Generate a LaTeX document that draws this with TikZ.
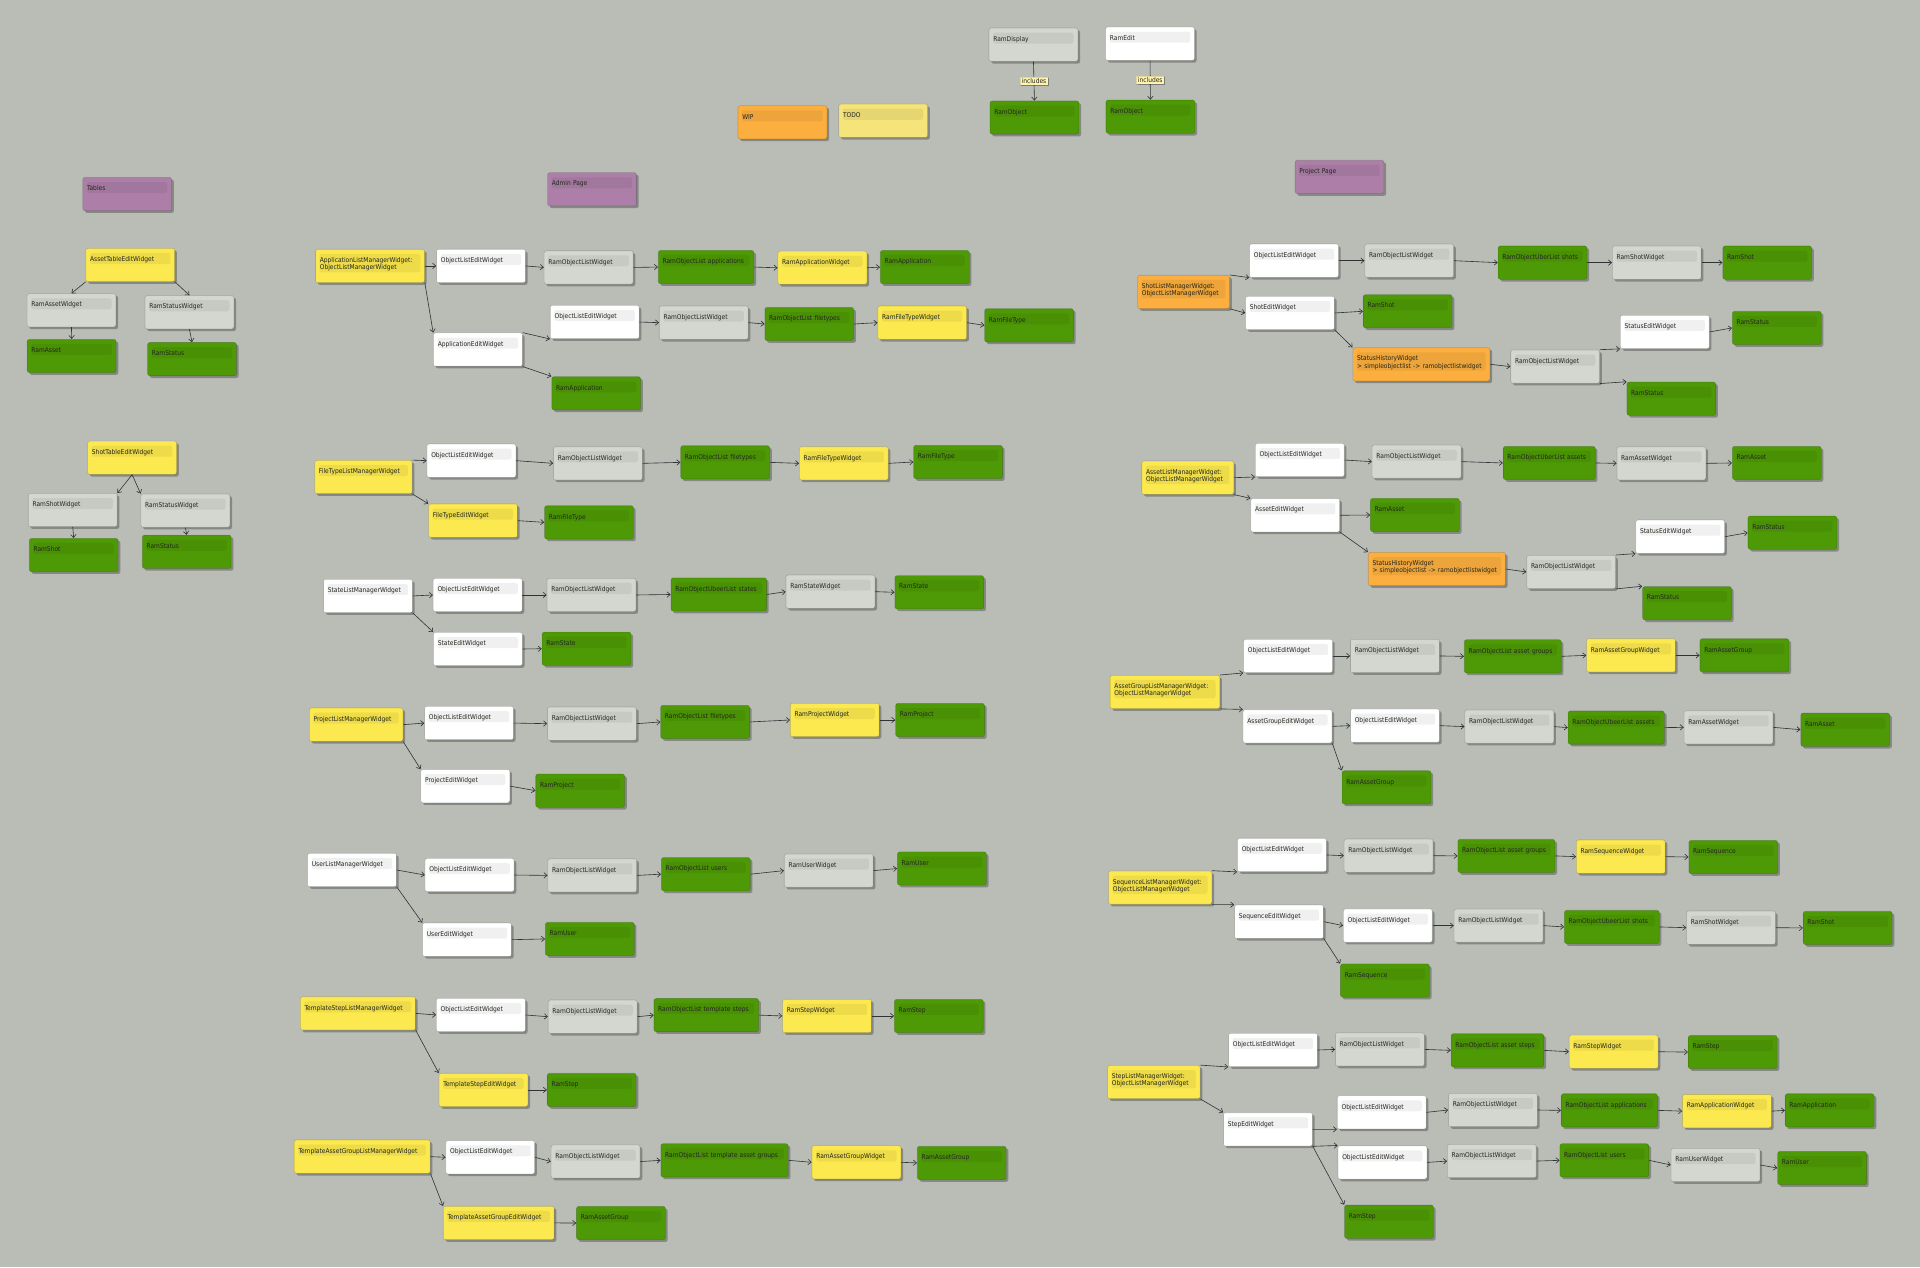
\documentclass[tikz,border=0pt]{standalone}
\usepackage{fontspec}
\setmainfont{DejaVu Sans Condensed}
\usepackage{tikz}
\usetikzlibrary{shadows,arrows.meta}

\hyphenpenalty=10000
\exhyphenpenalty=10000

\definecolor{ramback}{HTML}{BABDB6}
\definecolor{ramgreen}{HTML}{4E9A06}
\definecolor{ramyellow}{HTML}{FCE94F}
\definecolor{ramorange}{HTML}{FCAF3E}
\definecolor{ramplum}{HTML}{AD7FA8}
\definecolor{ramgray}{HTML}{D3D7CF}
\definecolor{ramtodo}{HTML}{F5E47A}
\definecolor{ramlabel}{HTML}{FFF3B0}
\definecolor{ramtext}{HTML}{23271F}
\definecolor{ramline}{HTML}{2E3436}

\tikzset{
  band/.store in=\bandh, band=9pt,
  box/.style={rectangle, rounded corners=1.8pt, draw=black, draw opacity=.16, line width=.5pt,
    inner xsep=3.5pt, inner ysep=0pt, text height=10.9pt, text depth=16.3pt,
    text width=65.6pt, align=left, text=ramtext,
    font=\fontsize{5.4}{5.8}\selectfont,
    drop shadow={shadow xshift=1.8pt, shadow yshift=-1.8pt, opacity=.28, fill=black},
    path picture={\fill[black, opacity=.06]
      ([xshift=3.3pt, yshift=-3.8pt]path picture bounding box.north west) rectangle
      ([xshift=-3.5pt, yshift=-3.8pt-\bandh]path picture bounding box.north east);}},
  boxw/.style={text width=#1-7},
  greenbox/.style={box, fill=ramgreen},
  yellowbox/.style={box, fill=ramyellow},
  orangebox/.style={box, fill=ramorange},
  plumbox/.style={box, fill=ramplum},
  graybox/.style={box, fill=ramgray},
  whitebox/.style={box, fill=white},
  todobox/.style={box, fill=ramtodo},
  inclabel/.style={rectangle, fill=ramlabel, draw=black, draw opacity=.12, line width=.3pt,
    inner xsep=1.3pt, inner ysep=1.2pt, text=ramtext, font=\fontsize{5.4}{5.8}\selectfont,
    drop shadow={shadow xshift=1pt, shadow yshift=-1pt, opacity=.25, fill=black}},
  link/.style={-{Straight Barb[length=2.6pt,width=4.4pt]}, line width=.5pt, draw=ramline}
}

\begin{document}
\begin{tikzpicture}[x=1pt,y=-1pt]
\fill[ramback] (0,0) rectangle (1568,1035);
\useasboundingbox (0,0) rectangle (1568,1035);

% legend
\node[orangebox] (wip) at (639,99.9) {WIP};
\node[todobox] (todo) at (721.3,98.6) {TODO};
\node[graybox] (ramdisplay) at (844,36.5) {RamDisplay};
\node[whitebox] (ramedit) at (939.2,35.7) {RamEdit};
\node[greenbox] (dispobject) at (844.8,96) {RamObject};
\node[greenbox] (editobject) at (939.5,95.3) {RamObject};

\draw[link] (ramdisplay.south) -- node[inclabel] (incdisp) {includes} (dispobject.north);
\draw[link] (ramedit.south) -- node[inclabel] (incedit) {includes} (editobject.north);

\node[plumbox] (tables) at (103.9,158.5) {Tables};
\node[plumbox] (adminpage) at (483.5,154.6) {Admin Page};
\node[plumbox] (projectpage) at (1093.9,144.5) {Project Page};

% tables
\node[yellowbox] (assettable) at (106.4,216.4) {AssetTableEditWidget};
\node[graybox] (tbassetw) at (58.4,253.4) {RamAssetWidget};
\node[graybox] (tbstatusw) at (154.7,255) {RamStatusWidget};
\node[greenbox] (tbasset) at (58.5,290.7) {RamAsset};
\node[greenbox] (tbstatus) at (156.8,293.3) {RamStatus};

\draw[link] (assettable.south west) -- (tbassetw.north);
\draw[link] (assettable.south east) -- (tbstatusw.north);
\draw[link] (tbassetw.south) -- (tbasset.north);
\draw[link] (tbstatusw.south) -- (tbstatus.north);

\node[yellowbox] (shottable) at (107.9,373.8) {ShotTableEditWidget};
\node[graybox] (tbshotw) at (59.4,416.5) {RamShotWidget};
\node[graybox] (tbstatusw2) at (151.4,417) {RamStatusWidget};
\node[greenbox] (tbshot) at (60.2,453.3) {RamShot};
\node[greenbox] (tbstatus2) at (152.5,450.6) {RamStatus};

\draw[link] (shottable.south) -- (tbshotw.north east);
\draw[link] (shottable.south) -- (tbstatusw2.north west);
\draw[link] (tbshotw.south) -- (tbshot.north);
\draw[link] (tbstatusw2.south) -- (tbstatus2.north);

% admin page
\node[yellowbox, boxw=89, band=15pt] (appmgr) at (302.2,217.2) {ApplicationListManagerWidget:\\ObjectListManagerWidget};
\node[whitebox] (appole) at (392.8,217.2) {ObjectListEditWidget};
\node[graybox] (approlw) at (480.7,218.4) {RamObjectListWidget};
\node[greenbox, boxw=78] (appolist) at (576.6,218.1) {RamObjectList applications};
\node[yellowbox] (appwidget) at (671.6,218.7) {RamApplicationWidget};
\node[greenbox] (appram) at (755.2,218.1) {RamApplication};
\node[whitebox] (appedit) at (390.3,285.5) {ApplicationEditWidget};
\node[whitebox] (appole2) at (485.7,263) {ObjectListEditWidget};
\node[graybox] (approlw2) at (574.7,263.5) {RamObjectListWidget};
\node[greenbox] (appftlist) at (660.9,264.6) {RamObjectList filetypes};
\node[yellowbox] (appftwidget) at (753.2,263.5) {RamFileTypeWidget};
\node[greenbox] (appft) at (840.4,265.7) {RamFileType};
\node[greenbox] (appram2) at (486.9,321.2) {RamApplication};

\draw[link] (appmgr.east) -- (appole.west);
\draw[link] (appmgr.south east) -- (appedit.north west);
\draw[link] (appole.east) -- (approlw.west);
\draw[link] (approlw.east) -- (appolist.west);
\draw[link] (appolist.east) -- (appwidget.west);
\draw[link] (appwidget.east) -- (appram.west);
\draw[link] (appedit.north east) -- (appole2.south west);
\draw[link] (appedit.south east) -- (appram2.north west);
\draw[link] (appole2.east) -- (approlw2.west);
\draw[link] (approlw2.east) -- (appftlist.west);
\draw[link] (appftlist.east) -- (appftwidget.west);
\draw[link] (appftwidget.east) -- (appft.west);

\node[yellowbox, boxw=79.6] (ftmgr) at (296.8,389.6) {FileTypeListManagerWidget};
\node[whitebox] (ftole) at (385,376.2) {ObjectListEditWidget};
\node[graybox] (ftrolw) at (488.3,378.4) {RamObjectListWidget};
\node[greenbox] (ftolist) at (592.2,377.6) {RamObjectList filetypes};
\node[yellowbox] (ftwidget) at (689.1,378.4) {RamFileTypeWidget};
\node[greenbox] (ftram) at (782.4,377.3) {RamFileType};
\node[yellowbox] (ftedit) at (386.3,425.2) {FileTypeEditWidget};
\node[greenbox] (ftram2) at (481,426.6) {RamFileType};

\draw[link] (ftmgr.north east) -- (ftole.west);
\draw[link] (ftmgr.south east) -- (ftedit.north west);
\draw[link] (ftole.east) -- (ftrolw.west);
\draw[link] (ftrolw.east) -- (ftolist.west);
\draw[link] (ftolist.east) -- (ftwidget.west);
\draw[link] (ftwidget.east) -- (ftram.west);
\draw[link] (ftedit.east) -- (ftram2.west);

\node[whitebox] (stmgr) at (300.5,486.7) {StateListManagerWidget};
\node[whitebox] (stole) at (390.1,485.9) {ObjectListEditWidget};
\node[graybox] (strolw) at (483,485.9) {RamObjectListWidget};
\node[greenbox, boxw=78] (stulist) at (587,485.5) {RamObjectUbeerList states};
\node[graybox] (stwidget) at (678.2,483.2) {RamStateWidget};
\node[greenbox] (stram) at (767.1,483.7) {RamState};
\node[whitebox] (stedit) at (390.3,530) {StateEditWidget};
\node[greenbox] (stram2) at (479,529.8) {RamState};

\draw[link] (stmgr.east) -- (stole.west);
\draw[link] (stmgr.south east) -- (stedit.north west);
\draw[link] (stole.east) -- (strolw.west);
\draw[link] (strolw.east) -- (stulist.west);
\draw[link] (stulist.east) -- (stwidget.west);
\draw[link] (stwidget.east) -- (stram.west);
\draw[link] (stedit.east) -- (stram2.west);

\node[yellowbox, boxw=76.4] (prmgr) at (290.8,591.8) {ProjectListManagerWidget};
\node[whitebox] (prole) at (383,590.5) {ObjectListEditWidget};
\node[graybox] (prrolw) at (483.4,591) {RamObjectListWidget};
\node[greenbox] (prolist) at (575.8,589.6) {RamObjectList filetypes};
\node[yellowbox] (prwidget) at (681.7,588) {RamProjectWidget};
\node[greenbox] (prram) at (767.7,588) {RamProject};
\node[whitebox] (predit) at (380,642) {ProjectEditWidget};
\node[greenbox] (prram2) at (473.8,645.7) {RamProject};

\draw[link] (prmgr.east) -- (prole.west);
\draw[link] (prmgr.south east) -- (predit.north west);
\draw[link] (prole.east) -- (prrolw.west);
\draw[link] (prrolw.east) -- (prolist.west);
\draw[link] (prolist.east) -- (prwidget.west);
\draw[link] (prwidget.east) -- (prram.west);
\draw[link] (predit.east) -- (prram2.west);

\node[whitebox] (usmgr) at (287.5,710.5) {UserListManagerWidget};
\node[whitebox] (usole) at (383.5,714.6) {ObjectListEditWidget};
\node[graybox] (usrolw) at (483.7,714.9) {RamObjectListWidget};
\node[greenbox] (usolist) at (576.4,713.9) {RamObjectList users};
\node[graybox] (uswidget) at (676.8,711) {RamUserWidget};
\node[greenbox] (usram) at (769.2,709.3) {RamUser};
\node[whitebox] (usedit) at (381.4,767.4) {UserEditWidget};
\node[greenbox] (usram2) at (481.7,766.8) {RamUser};

\draw[link] (usmgr.east) -- (usole.west);
\draw[link] (usmgr.south east) -- (usedit.north west);
\draw[link] (usole.east) -- (usrolw.west);
\draw[link] (usrolw.east) -- (usolist.west);
\draw[link] (usolist.east) -- (uswidget.west);
\draw[link] (uswidget.east) -- (usram.west);
\draw[link] (usedit.east) -- (usram2.west);

\node[yellowbox, boxw=94] (tsmgr) at (292.3,827.6) {TemplateStepListManagerWidget};
\node[whitebox] (tsole) at (392.7,828.9) {ObjectListEditWidget};
\node[graybox] (tsrolw) at (484,830.3) {RamObjectListWidget};
\node[greenbox, boxw=85.5] (tsolist) at (576.8,829) {RamObjectList template steps};
\node[yellowbox] (tswidget) at (675.4,829.7) {RamStepWidget};
\node[greenbox] (tsram) at (766.7,829.7) {RamStep};
\node[yellowbox] (tsedit) at (394.8,890.1) {TemplateStepEditWidget};
\node[greenbox] (tsram2) at (483.2,890.1) {RamStep};

\draw[link] (tsmgr.east) -- (tsole.west);
\draw[link] (tsmgr.south east) -- (tsedit.north west);
\draw[link] (tsole.east) -- (tsrolw.west);
\draw[link] (tsrolw.east) -- (tsolist.west);
\draw[link] (tsolist.east) -- (tswidget.west);
\draw[link] (tswidget.east) -- (tsram.west);
\draw[link] (tsedit.east) -- (tsram2.west);

\node[yellowbox, boxw=111] (tamgr) at (295.8,944.6) {TemplateAssetGroupListManagerWidget};
\node[whitebox] (taole) at (400.4,945.1) {ObjectListEditWidget};
\node[graybox] (tarolw) at (486.4,948.6) {RamObjectListWidget};
\node[greenbox, boxw=104] (taolist) at (591.7,947.6) {RamObjectList template asset groups};
\node[yellowbox] (tawidget) at (699.4,949.2) {RamAssetGroupWidget};
\node[greenbox] (taram) at (785.4,949.7) {RamAssetGroup};
\node[yellowbox, boxw=90.6] (taedit) at (407.3,998.7) {TemplateAssetGroupEditWidget};
\node[greenbox] (taram2) at (507.1,998.8) {RamAssetGroup};

\draw[link] (tamgr.east) -- (taole.west);
\draw[link] (tamgr.south east) -- (taedit.north west);
\draw[link] (taole.east) -- (tarolw.west);
\draw[link] (tarolw.east) -- (taolist.west);
\draw[link] (taolist.east) -- (tawidget.west);
\draw[link] (tawidget.east) -- (taram.west);
\draw[link] (taedit.east) -- (taram2.west);

% project page
\node[orangebox, boxw=75.2, band=15pt] (shmgr) at (966.6,238.4) {ShotListManagerWidget:\\ObjectListManagerWidget};
\node[whitebox] (shole) at (1056.8,212.9) {ObjectListEditWidget};
\node[graybox] (shrolw) at (1150.9,212.9) {RamObjectListWidget};
\node[greenbox] (shulist) at (1259.7,214.5) {RamObjectUberList shots};
\node[graybox] (shwidget) at (1353,214.5) {RamShotWidget};
\node[greenbox] (shram) at (1443.2,214.5) {RamShot};
\node[whitebox] (shedit) at (1053.5,255.6) {ShotEditWidget};
\node[greenbox] (shram2) at (1149.6,254.2) {RamShot};
\node[orangebox, boxw=112, band=15pt] (shhist) at (1160.8,297.5) {StatusHistoryWidget\\> simpleobjectlist -> ramobjectlistwidget};
\node[graybox] (shrolw2) at (1270.1,299.4) {RamObjectListWidget};
\node[whitebox] (shstedit) at (1359.6,271.1) {StatusEditWidget};
\node[greenbox] (shstatus) at (1451,267.8) {RamStatus};
\node[greenbox] (shstatus2) at (1364.9,325.6) {RamStatus};

\draw[link] (shmgr.north east) -- (shole.south west);
\draw[link] (shmgr.south east) -- (shedit.west);
\draw[link] (shole.east) -- (shrolw.west);
\draw[link] (shrolw.east) -- (shulist.west);
\draw[link] (shulist.east) -- (shwidget.west);
\draw[link] (shwidget.east) -- (shram.west);
\draw[link] (shedit.east) -- (shram2.west);
\draw[link] (shedit.south east) -- (shhist.north west);
\draw[link] (shhist.east) -- (shrolw2.west);
\draw[link] (shrolw2.north east) -- (shstedit.south west);
\draw[link] (shrolw2.south east) -- (shstatus2.north west);
\draw[link] (shstedit.east) -- (shstatus.west);

\node[yellowbox, boxw=75.1, band=15pt] (asmgr) at (970,390.1) {AssetListManagerWidget:\\ObjectListManagerWidget};
\node[whitebox] (asole) at (1061.5,375.7) {ObjectListEditWidget};
\node[graybox] (asrolw) at (1156.9,377) {RamObjectListWidget};
\node[greenbox, boxw=75.2] (asulist) at (1265.2,378.1) {RamObjectUberList assets};
\node[graybox] (aswidget) at (1356.8,378.4) {RamAssetWidget};
\node[greenbox] (asram) at (1451,378.1) {RamAsset};
\node[whitebox] (asedit) at (1057.8,420.8) {AssetEditWidget};
\node[greenbox] (asram2) at (1155.5,420.6) {RamAsset};
\node[orangebox, boxw=112, band=15pt] (ashist) at (1173.4,464.7) {StatusHistoryWidget\\> simpleobjectlist -> ramobjectlistwidget};
\node[graybox] (asrolw2) at (1283.1,467.1) {RamObjectListWidget};
\node[whitebox] (asstedit) at (1372.2,438.3) {StatusEditWidget};
\node[greenbox] (asstatus) at (1463.8,435) {RamStatus};
\node[greenbox] (asstatus2) at (1377.7,492.6) {RamStatus};

\draw[link] (asmgr.east) -- (asole.south west);
\draw[link] (asmgr.south east) -- (asedit.north west);
\draw[link] (asole.east) -- (asrolw.west);
\draw[link] (asrolw.east) -- (asulist.west);
\draw[link] (asulist.east) -- (aswidget.west);
\draw[link] (aswidget.east) -- (asram.west);
\draw[link] (asedit.east) -- (asram2.west);
\draw[link] (asedit.south east) -- (ashist.north west);
\draw[link] (ashist.east) -- (asrolw2.west);
\draw[link] (asrolw2.north east) -- (asstedit.south west);
\draw[link] (asrolw2.south east) -- (asstatus2.north west);
\draw[link] (asstedit.east) -- (asstatus.west);

\node[yellowbox, boxw=89.5, band=15pt] (agmgr) at (951.4,565.1) {AssetGroupListManagerWidget:\\ObjectListManagerWidget};
\node[whitebox] (agole) at (1051.9,535.7) {ObjectListEditWidget};
\node[graybox] (agrolw) at (1139.2,535.7) {RamObjectListWidget};
\node[greenbox, boxw=79.2] (agolist) at (1235.4,536) {RamObjectList asset groups};
\node[yellowbox] (agwidget) at (1332,535.2) {RamAssetGroupWidget};
\node[greenbox] (agram) at (1424.6,535.2) {RamAssetGroup};
\node[whitebox] (agedit) at (1051.5,593.2) {AssetGroupEditWidget};
\node[whitebox] (agole2) at (1139.2,592.6) {ObjectListEditWidget};
\node[graybox] (agrolw2) at (1232.6,593.4) {RamObjectListWidget};
\node[greenbox, boxw=78.6] (agulist) at (1319.9,594.2) {RamObjectUbeerList assets};
\node[graybox] (agaswidget) at (1411.6,594) {RamAssetWidget};
\node[greenbox] (agasram) at (1506.9,595.9) {RamAsset};
\node[greenbox] (agram2) at (1132.3,643) {RamAssetGroup};

\draw[link] (agmgr.north east) -- (agole.south west);
\draw[link] (agmgr.south east) -- (agedit.north west);
\draw[link] (agole.east) -- (agrolw.west);
\draw[link] (agrolw.east) -- (agolist.west);
\draw[link] (agolist.east) -- (agwidget.west);
\draw[link] (agwidget.east) -- (agram.west);
\draw[link] (agedit.east) -- (agole2.west);
\draw[link] (agedit.south east) -- (agram2.north west);
\draw[link] (agole2.east) -- (agrolw2.west);
\draw[link] (agrolw2.east) -- (agulist.west);
\draw[link] (agulist.east) -- (agaswidget.west);
\draw[link] (agaswidget.east) -- (agasram.west);

\node[yellowbox, boxw=84.3, band=15pt] (sqmgr) at (947.5,724.9) {SequenceListManagerWidget:\\ObjectListManagerWidget};
\node[whitebox] (sqole) at (1046.9,698.2) {ObjectListEditWidget};
\node[graybox] (sqrolw) at (1134,698.8) {RamObjectListWidget};
\node[greenbox, boxw=79.2] (sqolist) at (1230.2,699) {RamObjectList asset groups};
\node[yellowbox] (sqwidget) at (1323.6,699.6) {RamSequenceWidget};
\node[greenbox] (sqram) at (1415.5,699.9) {RamSequence};
\node[whitebox] (sqedit) at (1044.5,752.7) {SequenceEditWidget};
\node[whitebox] (sqole2) at (1133.4,755.9) {ObjectListEditWidget};
\node[graybox] (sqrolw2) at (1223.8,755.9) {RamObjectListWidget};
\node[greenbox, boxw=77.4] (squlist) at (1316.3,757) {RamObjectUbeerList shots};
\node[graybox] (sqshwidget) at (1413.7,757.6) {RamShotWidget};
\node[greenbox] (sqshram) at (1508.9,757.8) {RamShot};
\node[greenbox] (sqram2) at (1131,800.8) {RamSequence};

\draw[link] (sqmgr.north east) -- (sqole.south west);
\draw[link] (sqmgr.south east) -- (sqedit.north west);
\draw[link] (sqole.east) -- (sqrolw.west);
\draw[link] (sqrolw.east) -- (sqolist.west);
\draw[link] (sqolist.east) -- (sqwidget.west);
\draw[link] (sqwidget.east) -- (sqram.west);
\draw[link] (sqedit.east) -- (sqole2.west);
\draw[link] (sqedit.south east) -- (sqram2.north west);
\draw[link] (sqole2.east) -- (sqrolw2.west);
\draw[link] (sqrolw2.east) -- (squlist.west);
\draw[link] (squlist.east) -- (sqshwidget.west);
\draw[link] (sqshwidget.east) -- (sqshram.west);

\node[yellowbox, boxw=75.6, band=15pt] (spmgr) at (942.3,883.7) {StepListManagerWidget:\\ObjectListManagerWidget};
\node[whitebox] (spole) at (1039.6,857.5) {ObjectListEditWidget};
\node[graybox] (sprolw) at (1126.9,857) {RamObjectListWidget};
\node[greenbox, boxw=75.7] (spolist) at (1222.9,857.8) {RamObjectList asset steps};
\node[yellowbox] (spwidget) at (1317.8,858.9) {RamStepWidget};
\node[greenbox] (spram) at (1415,859.2) {RamStep};
\node[whitebox] (spedit) at (1035.5,922.3) {StepEditWidget};
\node[whitebox] (spole2) at (1128.4,908.4) {ObjectListEditWidget};
\node[graybox] (sprolw2) at (1219.2,906.5) {RamObjectListWidget};
\node[greenbox, boxw=78.6] (spapplist) at (1314.3,906.8) {RamObjectList applications};
\node[yellowbox] (spappwidget) at (1410.3,907.4) {RamApplicationWidget};
\node[greenbox] (spappram) at (1494.2,906.8) {RamApplication};
\node[whitebox] (spole3) at (1129,949.3) {ObjectListEditWidget};
\node[graybox] (sprolw3) at (1218.3,948.2) {RamObjectListWidget};
\node[greenbox] (spuslist) at (1310.2,947.6) {RamObjectList users};
\node[graybox] (spuswidget) at (1401,951.4) {RamUserWidget};
\node[greenbox] (spusram) at (1488,953.9) {RamUser};
\node[greenbox] (spram2) at (1134.3,997.7) {RamStep};

\draw[link] (spmgr.north east) -- (spole.south west);
\draw[link] (spmgr.south east) -- (spedit.north west);
\draw[link] (spole.east) -- (sprolw.west);
\draw[link] (sprolw.east) -- (spolist.west);
\draw[link] (spolist.east) -- (spwidget.west);
\draw[link] (spwidget.east) -- (spram.west);
\draw[link] (spedit.east) -- (spole2.south west);
\draw[link] (spedit.south east) -- (spole3.north west);
\draw[link] (spedit.south east) -- (spram2.north west);
\draw[link] (spole2.east) -- (sprolw2.west);
\draw[link] (sprolw2.east) -- (spapplist.west);
\draw[link] (spapplist.east) -- (spappwidget.west);
\draw[link] (spappwidget.east) -- (spappram.west);
\draw[link] (spole3.east) -- (sprolw3.west);
\draw[link] (sprolw3.east) -- (spuslist.west);
\draw[link] (spuslist.east) -- (spuswidget.west);
\draw[link] (spuswidget.east) -- (spusram.west);
\end{tikzpicture}
\end{document}
